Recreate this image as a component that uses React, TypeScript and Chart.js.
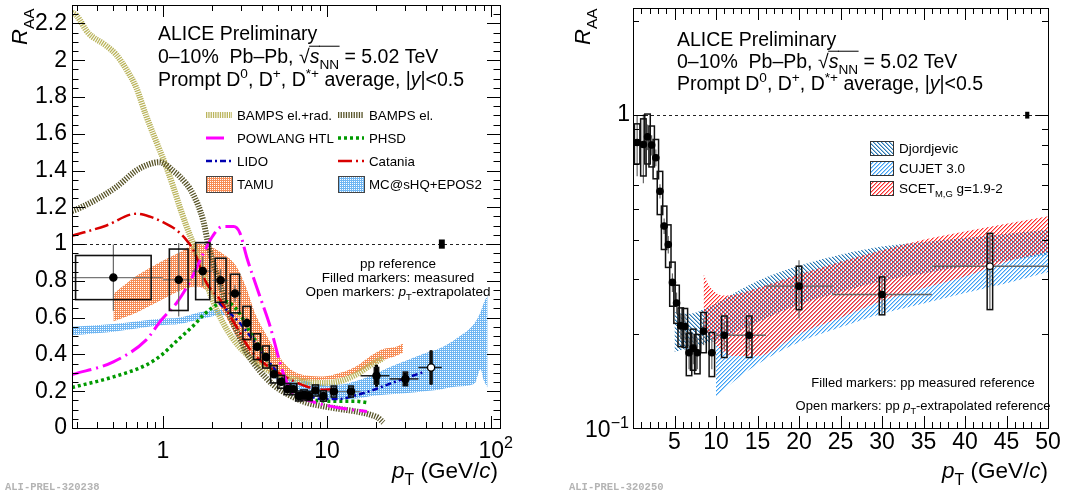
import React, { useEffect, useRef } from 'react';
import { Chart, registerables } from 'chart.js';

Chart.register(...registerables);

const FONT = '"Liberation Sans", Arial, Helvetica, sans-serif';
const MONO = '"Liberation Mono", "DejaVu Sans Mono", "Courier New", monospace';

// ---------------- measured D-meson RAA (both panels) ----------------
const ptCenters = [0.5, 1.25, 1.75, 2.25, 2.75, 3.25, 3.75, 4.25, 4.75, 5.25, 5.75, 6.25, 6.75, 7.25, 7.75, 8.5, 9.5, 11, 14, 20, 30, 43];
const ptLow = [0, 1, 1.5, 2, 2.5, 3, 3.5, 4, 4.5, 5, 5.5, 6, 6.5, 7, 7.5, 8, 9, 10, 12, 16, 24, 36];
const ptHigh = [1, 1.5, 2, 2.5, 3, 3.5, 4, 4.5, 5, 5.5, 6, 6.5, 7, 7.5, 8, 9, 10, 12, 16, 24, 36, 50];
const raa = [0.818, 0.806, 0.853, 0.803, 0.731, 0.571, 0.442, 0.386, 0.292, 0.251, 0.212, 0.211, 0.174, 0.18, 0.174, 0.204, 0.174, 0.198, 0.198, 0.284, 0.267, 0.329];
const statErr = [0.18, 0.2, 0.08, 0.06, 0.045, 0.03, 0.025, 0.025, 0.02, 0.02, 0.02, 0.02, 0.02, 0.02, 0.02, 0.02, 0.02, 0.02, 0.02, 0.06, 0.035, 0.09];
const sysErr = [0.12, 0.167, 0.155, 0.12, 0.105, 0.09, 0.07, 0.06, 0.047, 0.035, 0.03, 0.03, 0.027, 0.027, 0.025, 0.03, 0.028, 0.03, 0.03, 0.045, 0.037, 0.09];
const openMarker = [false, false, false, false, false, false, false, false, false, false, false, false, false, false, false, false, false, false, false, false, false, true];
const ppNormUnc = 0.025;
const ppBoxPtLeft = 50;
const ppBoxPtRight = 47.5;

// ---------------- left panel models ----------------
const bampsRadPt = [0.28, 0.3, 0.35, 0.45, 0.52, 0.6, 0.69, 0.79, 0.91, 1.05, 1.15, 1.26, 1.39, 1.55, 1.75, 2.0, 2.3, 2.7, 3.24, 3.9, 4.7, 6.0, 7.5, 9.5, 12, 15, 19, 22];
const bampsRadR = [2.26, 2.24, 2.15, 2.08, 2.03, 1.95, 1.85, 1.7, 1.56, 1.42, 1.32, 1.21, 1.1, 0.99, 0.85, 0.7, 0.58, 0.48, 0.4, 0.34, 0.3, 0.27, 0.25, 0.245, 0.255, 0.29, 0.35, 0.38];
const bampsElPt = [0.28, 0.3, 0.39, 0.52, 0.69, 0.83, 0.95, 1.05, 1.15, 1.26, 1.53, 1.76, 1.89, 2.02, 2.22, 2.44, 2.81, 3.24, 3.9, 4.7, 6.0, 7.5, 9.5, 12, 15, 18.4, 20.5, 22];
const bampsElR = [1.18, 1.19, 1.24, 1.31, 1.4, 1.435, 1.445, 1.43, 1.4, 1.37, 1.27, 1.13, 1.0, 0.9, 0.79, 0.66, 0.53, 0.41, 0.31, 0.235, 0.175, 0.138, 0.118, 0.103, 0.09, 0.072, 0.055, 0.03];
const powPt = [0.28, 0.5, 0.79, 0.98, 1.23, 1.48, 1.77, 2.0, 2.3, 2.7, 2.95, 3.24, 3.9, 4.5, 5.4, 6.2, 7.5, 9.5, 12, 14, 17.5];
const powR = [0.29, 0.36, 0.478, 0.587, 0.687, 0.805, 0.95, 1.04, 1.095, 1.095, 1.06, 0.93, 0.716, 0.553, 0.3, 0.19, 0.154, 0.127, 0.109, 0.1, 0.09];
const phsdPt = [0.28, 0.5, 0.79, 0.98, 1.23, 1.55, 1.77, 2.12, 2.35, 2.6, 2.95, 3.4, 3.9, 4.7, 6.0, 7.5, 9.5, 12, 15, 18];
const phsdR = [0.22, 0.278, 0.342, 0.396, 0.478, 0.56, 0.615, 0.67, 0.69, 0.675, 0.62, 0.52, 0.44, 0.32, 0.226, 0.165, 0.147, 0.145, 0.145, 0.136];
const lidoPt = [2.2, 2.6, 2.95, 3.4, 3.9, 4.7, 5.5, 6.5, 7.5, 9.5, 12, 15, 19, 24, 31, 39];
const lidoR = [0.68, 0.62, 0.57, 0.5, 0.43, 0.33, 0.26, 0.205, 0.178, 0.157, 0.158, 0.178, 0.206, 0.24, 0.275, 0.305];
const catPt = [0.28, 0.45, 0.69, 0.83, 1.0, 1.21, 1.39, 1.55, 1.84, 2.2, 2.54, 2.9, 3.32, 3.8, 4.71, 6.0, 7.5, 9.5, 11.5];
const catR = [1.045, 1.1, 1.165, 1.15, 1.12, 1.077, 1.023, 0.96, 0.79, 0.705, 0.615, 0.53, 0.44, 0.378, 0.317, 0.263, 0.226, 0.208, 0.212];
const tamuPt = [0.5, 0.7, 1.0, 1.3, 1.6, 1.9, 2.3, 2.8, 3.2, 3.7, 4.3, 4.7, 5.4, 6.2, 7.5, 9.5, 12, 15, 19, 22, 26, 29];
const tamuUp = [0.73, 0.83, 0.91, 0.96, 1.0, 0.99, 0.95, 0.88, 0.77, 0.61, 0.5, 0.44, 0.36, 0.31, 0.285, 0.28, 0.3, 0.335, 0.4, 0.43, 0.44, 0.46];
const tamuLo = [0.58, 0.63, 0.7, 0.75, 0.77, 0.74, 0.64, 0.5, 0.42, 0.36, 0.315, 0.29, 0.275, 0.263, 0.258, 0.262, 0.272, 0.3, 0.345, 0.37, 0.39, 0.41];
const mcPt = [0.28, 0.5, 1.0, 1.25, 1.75, 2.3, 2.8, 3.2, 3.75, 4.7, 6, 7.5, 9.5, 12, 15, 19, 24, 31, 39, 49, 62, 79, 86, 90, 95];
const mcUp = [0.55, 0.565, 0.595, 0.6, 0.632, 0.645, 0.633, 0.6, 0.5, 0.353, 0.28, 0.254, 0.236, 0.236, 0.255, 0.29, 0.33, 0.37, 0.405, 0.435, 0.49, 0.57, 0.63, 0.68, 0.72];
const mcLo = [0.505, 0.524, 0.56, 0.565, 0.596, 0.615, 0.587, 0.53, 0.41, 0.28, 0.217, 0.181, 0.163, 0.155, 0.16, 0.175, 0.183, 0.19, 0.2, 0.21, 0.225, 0.24, 0.32, 0.26, 0.22];

// ---------------- right panel models ----------------
const djPt = [5, 6, 7, 8, 9, 10, 12, 15, 20, 25, 30, 35, 40, 45, 50];
const djUp = [0.235, 0.232, 0.232, 0.236, 0.243, 0.25, 0.268, 0.295, 0.33, 0.358, 0.38, 0.393, 0.405, 0.418, 0.43];
const djLo = [0.175, 0.178, 0.18, 0.183, 0.187, 0.19, 0.2, 0.218, 0.248, 0.272, 0.295, 0.312, 0.328, 0.343, 0.357];
const cuPt = [10, 12, 15, 20, 25, 30, 35, 40, 45, 50];
const cuUp = [0.21, 0.225, 0.25, 0.29, 0.32, 0.345, 0.365, 0.38, 0.395, 0.41];
const cuLo = [0.125, 0.14, 0.16, 0.188, 0.21, 0.232, 0.25, 0.27, 0.29, 0.315];
const scPt = [8.5, 9, 10, 11, 12, 15, 20, 25, 30, 35, 40, 45, 50];
const scUp = [0.312, 0.29, 0.27, 0.265, 0.266, 0.28, 0.31, 0.34, 0.37, 0.4, 0.425, 0.45, 0.475];
const scLo = [0.21, 0.2, 0.185, 0.175, 0.17, 0.17, 0.2, 0.225, 0.255, 0.28, 0.305, 0.34, 0.365];

// ---------------- styles ----------------
const BOX_HALF_DEX = [0.23, 0.057, 0.043, 0.033, 0.028, 0.024, 0.021, 0.02, 0.02, 0.02, 0.02, 0.02, 0.02, 0.02, 0.02, 0.018, 0.018, 0.016, 0.014, 0.013, 0.013, 0.004];
const BOX_HALF_LIN = 0.33;
const KHAKI = 'rgb(186,180,92)';
const DARK_OLIVE = 'rgb(88,84,40)';
const MAGENTA = '#ff00ff';
const GREEN = '#009a00';
const NAVY = '#0000b0';
const RED = '#d80000';
const TAMU_COLOR = 'rgb(246,140,85)';
const MC_COLOR = 'rgb(112,182,242)';
const DJ_COLOR = 'rgb(40,120,180)';
const CU_COLOR = 'rgb(60,160,245)';
const SC_COLOR = 'rgb(255,45,45)';
const TICK_SIZE = 23;

type Seg = [string, string?];

const pts = (xs: number[], ys: number[]) => xs.map((x, i) => ({ x, y: ys[i] }));

function drawRich(ctx: CanvasRenderingContext2D, segs: Seg[], x: number, y: number, size: number, align: string = 'left', color = '#000') {
  const items = segs.map(([t, f = '']) => {
    const small = f.includes('b') || f.includes('p');
    const fs = small ? size * 0.7 : size;
    const font = `${f.includes('i') ? 'italic ' : ''}${fs}px ${FONT}`;
    ctx.font = font;
    return { t, f, font, w: ctx.measureText(t).width };
  });
  const total = items.reduce((s, it) => s + it.w, 0);
  let cx = align === 'left' ? x : align === 'center' ? x - total / 2 : x - total;
  ctx.fillStyle = color;
  ctx.strokeStyle = color;
  ctx.textAlign = 'left';
  ctx.textBaseline = 'alphabetic';
  for (const it of items) {
    ctx.font = it.font;
    let dy = 0;
    if (it.f.includes('b')) dy = size * 0.3;
    if (it.f.includes('p')) dy = -size * 0.42;
    ctx.fillText(it.t, cx, y + dy);
    if (it.f.includes('o')) {
      ctx.lineWidth = 1;
      ctx.setLineDash([]);
      ctx.beginPath();
      ctx.moveTo(cx - 0.5, y - size * 0.86);
      ctx.lineTo(cx + it.w + 0.5, y - size * 0.86);
      ctx.stroke();
    }
    cx += it.w;
  }
  return total;
}

// hatch / fine texture patterns (ROOT-like fill styles)
function makePattern(color: string, kind: string, n: number) {
  const c = document.createElement('canvas');
  c.width = n;
  c.height = n;
  const g = c.getContext('2d') as CanvasRenderingContext2D;
  g.fillStyle = color;
  if (kind === 'dense') {
    g.fillRect(0, 0, 1, 1);
    g.fillRect(1, 1, 1, 1);
    g.fillRect(1, 0, 1, 1);
  } else {
    for (let i = 0; i < n; i++) {
      if (kind === 'back') {
        g.globalAlpha = 1;
        g.fillRect(i, i, 1, 1);
        g.globalAlpha = 0.45;
        g.fillRect((i + 1) % n, i, 1, 1);
      }
      if (kind === 'fwd') {
        g.globalAlpha = 1;
        g.fillRect(i, n - 1 - i, 1, 1);
        g.globalAlpha = 0.45;
        g.fillRect((i + 1) % n, n - 1 - i, 1, 1);
      }
    }
  }
  return g.createPattern(c, 'repeat') as CanvasPattern;
}

const lineDs = (xs: number[], ys: number[], color: string, width: number, dash: number[]) => ({
  data: pts(xs, ys),
  borderColor: color,
  borderWidth: width,
  borderDash: dash,
  borderCapStyle: 'butt',
  pointRadius: 0,
  fill: false,
  cubicInterpolationMode: 'monotone',
});

const bandDs = (xs: number[], up: number[], lo: number[], pattern: any) => [
  { data: pts(xs, up), borderWidth: 0, borderColor: 'rgba(0,0,0,0)', backgroundColor: pattern, pointRadius: 0, fill: '+1', cubicInterpolationMode: 'monotone' },
  { data: pts(xs, lo), borderWidth: 0, borderColor: 'rgba(0,0,0,0)', backgroundColor: 'rgba(0,0,0,0)', pointRadius: 0, fill: false, cubicInterpolationMode: 'monotone' },
];

function drawFrameTicks(chart: any, xt: Array<[number, boolean]>, yt: Array<[number, boolean]>, xl: number[], yl: number[]) {
  const { ctx, chartArea: a, scales } = chart;
  ctx.save();
  ctx.strokeStyle = '#000';
  ctx.lineWidth = 1;
  ctx.setLineDash([]);
  ctx.beginPath();
  for (const [v, maj] of xt) {
    const p = Math.round(scales.x.getPixelForValue(v)) + 0.5;
    if (p < a.left || p > a.right + 1) continue;
    const l = maj ? xl[0] : xl[1];
    ctx.moveTo(p, a.bottom);
    ctx.lineTo(p, a.bottom - l);
    ctx.moveTo(p, a.top);
    ctx.lineTo(p, a.top + l);
  }
  for (const [v, maj] of yt) {
    const p = Math.round(scales.y.getPixelForValue(v)) + 0.5;
    if (p < a.top || p > a.bottom + 1) continue;
    const l = maj ? yl[0] : yl[1];
    ctx.moveTo(a.left, p);
    ctx.lineTo(a.left + l, p);
    ctx.moveTo(a.right, p);
    ctx.lineTo(a.right - l, p);
  }
  ctx.stroke();
  const L = Math.round(a.left) + 0.5, T = Math.round(a.top) + 0.5;
  ctx.strokeRect(L, T, Math.round(a.right) - Math.round(a.left), Math.round(a.bottom) - Math.round(a.top));
  ctx.restore();
}

function dashedUnity(chart: any) {
  const { ctx, chartArea: a, scales } = chart;
  const y = Math.round(scales.y.getPixelForValue(1)) + 0.5;
  ctx.save();
  ctx.strokeStyle = '#222';
  ctx.lineWidth = 1;
  ctx.setLineDash([3, 3]);
  ctx.beginPath();
  ctx.moveTo(a.left, y);
  ctx.lineTo(a.right, y);
  ctx.stroke();
  ctx.restore();
}

function sampleLine(ctx: CanvasRenderingContext2D, x0: number, x1: number, y: number, color: string, w: number, dash: number[]) {
  ctx.save();
  ctx.strokeStyle = color;
  ctx.lineWidth = w;
  ctx.setLineDash(dash);
  ctx.lineCap = 'butt';
  ctx.beginPath();
  ctx.moveTo(x0, y);
  ctx.lineTo(x1, y);
  ctx.stroke();
  ctx.restore();
}

function sampleBox(ctx: CanvasRenderingContext2D, x: number, y: number, w: number, h: number, fill: any, border: string) {
  ctx.save();
  ctx.fillStyle = fill;
  ctx.fillRect(x, y, w, h);
  ctx.strokeStyle = border;
  ctx.lineWidth = 1;
  ctx.setLineDash([]);
  ctx.strokeRect(x + 0.5, y + 0.5, w, h);
  ctx.restore();
}

function axisTitles(ctx: CanvasRenderingContext2D, a: any, rx: number, ry: number, pTy: number, pTx: number) {
  drawRich(ctx, [['p', 'i'], ['T', 'b'], [' (GeV/'], ['c', 'i'], [')']], pTx, pTy, 22.5, 'right');
  ctx.save();
  ctx.translate(rx, ry);
  ctx.rotate(-Math.PI / 2);
  drawRich(ctx, [['R', 'i'], ['AA', 'b']], 0, 0, 22, 'left');
  ctx.restore();
}

function headerText(ctx: CanvasRenderingContext2D, x: number, y0: number, dy: number) {
  const s = 19.5;
  drawRich(ctx, [['ALICE Preliminary']], x, y0, s);
  drawRich(ctx, [['0\u201310%  Pb\u2013Pb, \u221A'], ['s', 'io'], ['NN', 'bo'], [' = 5.02 TeV']], x, y0 + dy, s);
  drawRich(ctx, [['Prompt D'], ['0', 'p'], [', D'], ['+', 'p'], [', D'], ['*+', 'p'], [' average, |'], ['y', 'i'], ['|<0.5']], x, y0 + 2 * dy, s);
}

function watermark(ctx: CanvasRenderingContext2D, text: string, x: number, y: number) {
  ctx.save();
  ctx.font = `bold 10.5px ${MONO}`;
  ctx.fillStyle = '#b4b4b4';
  ctx.textAlign = 'left';
  ctx.textBaseline = 'alphabetic';
  ctx.fillText(text, x, y);
  ctx.restore();
}

// ---------------- LEFT chart ----------------
function buildLeft(canvas: HTMLCanvasElement) {
  const tamuPat = makePattern(TAMU_COLOR, 'dense', 2);
  const mcPat = makePattern(MC_COLOR, 'dense', 2);
  const xTicks: Array<[number, boolean]> = [];
  for (const d of [0.1, 1, 10, 100]) for (let k = 1; k <= 9; k++) { const v = k * d; if (v >= 0.28 && v <= 113) xTicks.push([v, k === 1]); }
  const yTicks: Array<[number, boolean]> = [];
  for (let i = 0; i <= 46; i++) yTicks.push([i * 0.05, i % 4 === 0]);

  const plugin = {
    id: 'leftDecor',
    beforeDatasetsDraw(chart: any) { dashedUnity(chart); },
    beforeDatasetDraw(chart: any, args: any) {
      if (args.index !== 0) return;
      const { ctx, chartArea: a, scales } = chart;
      const xs = scales.x, ys = scales.y;
      ctx.save();
      ctx.beginPath();
      ctx.rect(a.left, a.top, a.right - a.left, a.bottom - a.top);
      ctx.clip();
      ctx.setLineDash([]);
      for (let i = 0; i < ptCenters.length; i++) {
        const thick = ptCenters[i] > 15;
        const px = xs.getPixelForValue(ptCenters[i]);
        const py = ys.getPixelForValue(raa[i]);
        ctx.strokeStyle = thick ? '#222' : '#777';
        ctx.lineWidth = thick ? 1.5 : 1.2;
        ctx.beginPath();
        ctx.moveTo(xs.getPixelForValue(Math.max(ptLow[i], 0.25)), py);
        ctx.lineTo(xs.getPixelForValue(ptHigh[i]), py);
        ctx.stroke();
        ctx.strokeStyle = thick ? '#000' : '#666';
        ctx.lineWidth = thick ? 3 : 1.2;
        ctx.beginPath();
        ctx.moveTo(px, ys.getPixelForValue(raa[i] - statErr[i]));
        ctx.lineTo(px, ys.getPixelForValue(raa[i] + statErr[i]));
        ctx.stroke();
        const f = Math.pow(10, BOX_HALF_DEX[i]);
        const bx0 = xs.getPixelForValue(ptCenters[i] / f), bx1 = xs.getPixelForValue(ptCenters[i] * f);
        const by0 = ys.getPixelForValue(raa[i] + sysErr[i]), by1 = ys.getPixelForValue(raa[i] - sysErr[i]);
        ctx.strokeStyle = '#111';
        ctx.lineWidth = 1.6;
        ctx.strokeRect(bx0, by0, bx1 - bx0, by1 - by0);
      }
      const f = Math.pow(10, 0.018);
      const x0 = xs.getPixelForValue(ppBoxPtLeft / f), x1 = xs.getPixelForValue(ppBoxPtLeft * f);
      const y0 = ys.getPixelForValue(1 + ppNormUnc), y1 = ys.getPixelForValue(1 - ppNormUnc);
      ctx.fillStyle = '#000';
      ctx.fillRect(x0, y0, x1 - x0, y1 - y0);
      ctx.restore();
    },
    afterDraw(chart: any) {
      const { ctx, chartArea: a, scales } = chart;
      drawFrameTicks(chart, xTicks, yTicks, [12, 6], [13, 6.5]);
      // 10^2 label
      ctx.save();
      const p100 = scales.x.getPixelForValue(100);
      const ymid = a.bottom + 10 + TICK_SIZE * 0.6;
      ctx.font = `${TICK_SIZE}px ${FONT}`;
      ctx.fillStyle = '#000';
      ctx.textBaseline = 'middle';
      ctx.textAlign = 'center';
      ctx.fillText('10', p100, ymid);
      const w10 = ctx.measureText('10').width;
      ctx.font = `${TICK_SIZE * 0.7}px ${FONT}`;
      ctx.textAlign = 'left';
      ctx.fillText('2', p100 + w10 / 2, ymid - 8);
      ctx.restore();
      ctx.save();
      axisTitles(ctx, a, 27, 45, 478, 498);
      headerText(ctx, 158, 40, 23);
      // legend
      const c1 = 206, c2 = 338, t1 = 237, t2 = 369, ls = 13.3;
      const rows = [115, 138, 161, 184];
      sampleLine(ctx, c1, c1 + 26, rows[0], KHAKI, 6, [1.3, 1.0]);
      sampleLine(ctx, c2, c2 + 26, rows[0], DARK_OLIVE, 6, [1.3, 1.3]);
      sampleLine(ctx, c1, c1 + 18, rows[1], MAGENTA, 3, [20, 5, 2, 5]);
      sampleLine(ctx, c2, c2 + 26, rows[1], GREEN, 3.5, [3, 3]);
      sampleLine(ctx, c1, c1 + 26, rows[2], NAVY, 2.5, [6, 3, 2, 3]);
      sampleLine(ctx, c2, c2 + 26, rows[2], RED, 2.5, [14, 4, 2, 4]);
      sampleBox(ctx, c1, rows[3] - 8, 26, 16, tamuPat, '#444');
      sampleBox(ctx, c2, rows[3] - 8, 26, 16, mcPat, '#444');
      const lbl: Array<[string, number, number]> = [
        ['BAMPS el.+rad.', t1, rows[0]], ['BAMPS el.', t2, rows[0]],
        ['POWLANG HTL', t1, rows[1]], ['PHSD', t2, rows[1]],
        ['LIDO', t1, rows[2]], ['Catania', t2, rows[2]],
        ['TAMU', t1, rows[3]], ['MC@sHQ+EPOS2', t2, rows[3]],
      ];
      for (const [t, x, y] of lbl) drawRich(ctx, [[t]], x, y + 4.8, ls);
      drawRich(ctx, [['pp reference']], 398, 268, 13.5, 'center');
      drawRich(ctx, [['Filled markers: measured']], 398, 282, 13.5, 'center');
      drawRich(ctx, [['Open markers: '], ['p', 'i'], ['T', 'b'], ['-extrapolated']], 398, 296, 13.5, 'center');
      watermark(ctx, 'ALI-PREL-320238', 5, 490);
      ctx.restore();
    },
  };

  const datasets: any[] = [
    {
      data: pts(ptCenters, raa), showLine: false, pointRadius: 3.6, pointHoverRadius: 3.6,
      pointBackgroundColor: openMarker.map((o) => (o ? '#fff' : '#000')), pointBorderColor: '#000', pointBorderWidth: 1.3,
      borderColor: '#000', backgroundColor: '#000',
    },
    lineDs(powPt, powR, MAGENTA, 3, [20, 5, 2, 5]),
    lineDs(catPt, catR, RED, 2.5, [14, 4, 2, 4]),
    lineDs(lidoPt, lidoR, NAVY, 2.5, [6, 3, 2, 3]),
    lineDs(phsdPt, phsdR, GREEN, 3.5, [3, 3]),
    lineDs(bampsElPt, bampsElR, DARK_OLIVE, 6, [1.3, 1.3]),
    lineDs(bampsRadPt, bampsRadR, KHAKI, 6, [1.3, 1.0]),
    ...bandDs(tamuPt, tamuUp, tamuLo, tamuPat),
    ...bandDs(mcPt, mcUp, mcLo, mcPat),
  ];

  return new Chart(canvas, {
    type: 'line',
    data: { datasets },
    options: {
      animation: false,
      responsive: false,
      events: [],
      layout: { padding: { left: 0, right: 43, top: 5, bottom: 0 }, autoPadding: false },
      plugins: { legend: { display: false }, tooltip: { enabled: false } },
      scales: {
        x: {
          type: 'logarithmic', min: 0.28, max: 113, position: 'bottom',
          grid: { display: false, drawTicks: false }, border: { display: false },
          ticks: {
            autoSkip: false, maxRotation: 0, minRotation: 0, padding: 10, color: '#000',
            font: { family: FONT, size: TICK_SIZE },
            callback: (v: any) => (Math.abs(v - 1) < 1e-9 ? '1' : Math.abs(v - 10) < 1e-9 ? '10' : ''),
          },
          afterFit: (s: any) => { s.height = 68; s.paddingLeft = 0; s.paddingRight = 0; },
        },
        y: {
          type: 'linear', min: 0, max: 2.3, position: 'left',
          grid: { display: false, drawTicks: false }, border: { display: false },
          ticks: {
            stepSize: 0.2, includeBounds: false, autoSkip: false, padding: 5, color: '#000',
            font: { family: FONT, size: TICK_SIZE },
            callback: (v: any) => String(Math.round(v * 10) / 10),
          },
          afterFit: (s: any) => { s.width = 72; s.paddingTop = 0; s.paddingBottom = 0; },
        },
      },
    } as any,
    plugins: [plugin],
  } as any);
}

// ---------------- RIGHT chart ----------------
function buildRight(canvas: HTMLCanvasElement) {
  const djPat = makePattern(DJ_COLOR, 'back', 4);
  const cuPat = makePattern(CU_COLOR, 'fwd', 4);
  const scPat = makePattern(SC_COLOR, 'fwd', 4);
  const OX = 543;
  const xTicks: Array<[number, boolean]> = [];
  for (let v = 1; v <= 50; v++) xTicks.push([v, v % 5 === 0]);
  const yTicks: Array<[number, boolean]> = [];
  for (const d of [0.1, 1]) for (let k = 1; k <= 9; k++) { const v = k * d; if (v <= 2.2) yTicks.push([v, k === 1]); }

  const plugin = {
    id: 'rightDecor',
    beforeDatasetsDraw(chart: any) { dashedUnity(chart); },
    beforeDatasetDraw(chart: any, args: any) {
      if (args.index !== 0) return;
      const { ctx, chartArea: a, scales } = chart;
      const xs = scales.x, ys = scales.y;
      ctx.save();
      ctx.beginPath();
      ctx.rect(a.left, a.top, a.right - a.left, a.bottom - a.top);
      ctx.clip();
      ctx.setLineDash([]);
      for (let i = 0; i < ptCenters.length; i++) {
        const px = xs.getPixelForValue(ptCenters[i]);
        const py = ys.getPixelForValue(raa[i]);
        ctx.strokeStyle = '#666';
        ctx.lineWidth = 1.4;
        ctx.beginPath();
        ctx.moveTo(xs.getPixelForValue(ptLow[i]), py);
        ctx.lineTo(xs.getPixelForValue(ptHigh[i]), py);
        ctx.stroke();
        ctx.lineWidth = 1.2;
        ctx.beginPath();
        ctx.moveTo(px, ys.getPixelForValue(raa[i] - statErr[i]));
        ctx.lineTo(px, ys.getPixelForValue(raa[i] + statErr[i]));
        ctx.stroke();
        const bx0 = xs.getPixelForValue(ptCenters[i] - BOX_HALF_LIN), bx1 = xs.getPixelForValue(ptCenters[i] + BOX_HALF_LIN);
        const by0 = ys.getPixelForValue(raa[i] + sysErr[i]), by1 = ys.getPixelForValue(raa[i] - sysErr[i]);
        ctx.strokeStyle = '#111';
        ctx.lineWidth = 1.5;
        ctx.strokeRect(bx0, by0, bx1 - bx0, by1 - by0);
      }
      const x0 = xs.getPixelForValue(ppBoxPtRight - 0.25), x1 = xs.getPixelForValue(ppBoxPtRight + 0.25);
      const y0 = ys.getPixelForValue(1 + ppNormUnc), y1 = ys.getPixelForValue(1 - ppNormUnc);
      ctx.fillStyle = '#000';
      ctx.fillRect(x0, y0, x1 - x0, y1 - y0);
      ctx.restore();
    },
    afterDraw(chart: any) {
      const { ctx, chartArea: a, scales } = chart;
      drawFrameTicks(chart, xTicks, yTicks, [12, 6], [12, 6]);
      // 10^-1 label
      ctx.save();
      const py = scales.y.getPixelForValue(0.1) + 3;
      ctx.fillStyle = '#000';
      ctx.textBaseline = 'middle';
      ctx.textAlign = 'left';
      ctx.font = `${TICK_SIZE * 0.7}px ${FONT}`;
      const ws = ctx.measureText('\u22121').width;
      ctx.font = `${TICK_SIZE}px ${FONT}`;
      const w10 = ctx.measureText('10').width;
      const xr = a.left - 4;
      ctx.fillText('10', xr - ws - w10, py);
      ctx.font = `${TICK_SIZE * 0.7}px ${FONT}`;
      ctx.fillText('\u22121', xr - ws, py - 7);
      ctx.restore();
      ctx.save();
      axisTitles(ctx, a, 590 - OX, 45, 478, a.right);
      headerText(ctx, 677 - OX, 46, 22);
      const bx = 870 - OX;
      const rows = [148, 168, 188];
      sampleBox(ctx, bx, rows[0] - 7, 23, 14, djPat, '#333');
      sampleBox(ctx, bx, rows[1] - 7, 23, 14, cuPat, '#333');
      sampleBox(ctx, bx, rows[2] - 7, 23, 14, scPat, '#333');
      drawRich(ctx, [['Djordjevic']], 899 - OX, rows[0] + 5, 13.5);
      drawRich(ctx, [['CUJET 3.0']], 899 - OX, rows[1] + 5, 13.5);
      drawRich(ctx, [['SCET'], ['M,G', 'b'], [' g=1.9-2']], 899 - OX, rows[2] + 5, 13.5);
      drawRich(ctx, [['Filled markers: pp measured reference']], 923 - OX, 387, 13, 'center');
      drawRich(ctx, [['Open markers: pp '], ['p', 'i'], ['T', 'b'], ['-extrapolated reference']], 923 - OX, 410, 13, 'center');
      watermark(ctx, 'ALI-PREL-320250', 569 - OX, 490);
      ctx.restore();
    },
  };

  const datasets: any[] = [
    {
      data: pts(ptCenters, raa), showLine: false, pointRadius: 3.2, pointHoverRadius: 3.2,
      pointBackgroundColor: openMarker.map((o) => (o ? '#fff' : '#000')), pointBorderColor: '#000', pointBorderWidth: 1.2,
      borderColor: '#000', backgroundColor: '#000',
    },
    ...bandDs(scPt, scUp, scLo, scPat),
    ...bandDs(cuPt, cuUp, cuLo, cuPat),
    ...bandDs(djPt, djUp, djLo, djPat),
  ];

  return new Chart(canvas, {
    type: 'line',
    data: { datasets },
    options: {
      animation: false,
      responsive: false,
      events: [],
      layout: { padding: { left: 0, right: 39, top: 8, bottom: 0 }, autoPadding: false },
      plugins: { legend: { display: false }, tooltip: { enabled: false } },
      scales: {
        x: {
          type: 'linear', min: 0, max: 50, position: 'bottom',
          grid: { display: false, drawTicks: false }, border: { display: false },
          ticks: {
            stepSize: 5, autoSkip: false, maxRotation: 0, minRotation: 0, padding: 1, color: '#000',
            font: { family: FONT, size: TICK_SIZE },
            callback: (v: any) => (v === 0 ? '' : String(v)),
          },
          afterFit: (s: any) => { s.height = 68; s.paddingLeft = 0; s.paddingRight = 0; },
        },
        y: {
          type: 'logarithmic', min: 0.1, max: 2.2, position: 'left',
          grid: { display: false, drawTicks: false }, border: { display: false },
          ticks: {
            autoSkip: false, padding: 3, color: '#000',
            font: { family: FONT, size: TICK_SIZE },
            callback: (v: any) => (Math.abs(v - 1) < 1e-9 ? '1' : ''),
          },
          afterFit: (s: any) => { s.width = 90; s.paddingTop = 0; s.paddingBottom = 0; },
        },
      },
    } as any,
    plugins: [plugin],
  } as any);
}

export default function App() {
  const leftRef = useRef<HTMLCanvasElement>(null);
  const rightRef = useRef<HTMLCanvasElement>(null);
  useEffect(() => {
    const c1 = buildLeft(leftRef.current as HTMLCanvasElement);
    const c2 = buildRight(rightRef.current as HTMLCanvasElement);
    return () => {
      c1.destroy();
      c2.destroy();
    };
  }, []);
  return (
    <div style={{ position: 'fixed', left: 0, top: 0, width: 1087, height: 496, background: '#fff', overflow: 'hidden' }}>
      <canvas ref={leftRef} width={543} height={496} style={{ position: 'absolute', left: 0, top: 0 }} />
      <canvas ref={rightRef} width={544} height={496} style={{ position: 'absolute', left: 543, top: 0 }} />
    </div>
  );
}
